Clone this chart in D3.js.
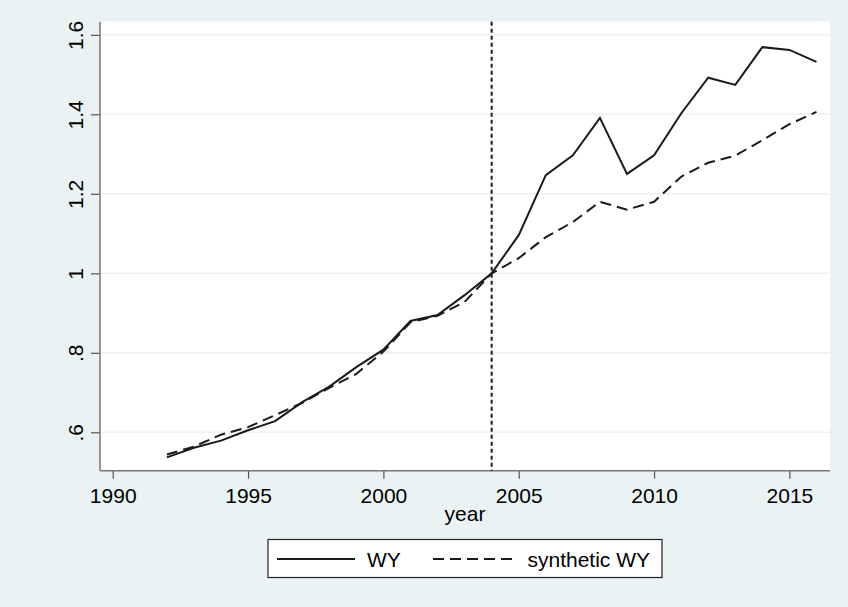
<!DOCTYPE html>
<html>
<head>
<meta charset="utf-8">
<script src="https://cdn.jsdelivr.net/npm/d3@7"></script>
<style>
  html, body { margin: 0; padding: 0; background: #eaf2f3; }
  svg { display: block; font-family: "Liberation Sans", Arial, sans-serif; }
</style>
</head>
<body>
<div id="chart"></div>
<script>
const years = d3.range(1992, 2017);
const wy = [0.537, 0.561, 0.579, 0.605, 0.628, 0.676, 0.715, 0.764, 0.808, 0.880, 0.895, 0.945,
  1.000, 1.096, 1.247, 1.297, 1.391, 1.250, 1.297, 1.402, 1.492, 1.474, 1.569, 1.562, 1.532];
const synthWy = [0.544, 0.564, 0.594, 0.613, 0.643, 0.674, 0.712, 0.747, 0.803, 0.877, 0.893, 0.928,
  1.000, 1.038, 1.091, 1.129, 1.180, 1.160, 1.180, 1.243, 1.278, 1.296, 1.335, 1.375, 1.406];
const xTicks = [1990, 1995, 2000, 2005, 2010, 2015];
const yTicks = [0.6, 0.8, 1.0, 1.2, 1.4, 1.6];
const yTickLabels = ['.6', '.8', '1', '1.2', '1.4', '1.6'];
const treatYear = 2004;
const legendLabels = ['WY', 'synthetic WY'];

const width = 848, height = 607;
const plot = { left: 100, right: 830, top: 21.7, bottom: 470.7 };

const svg = d3.select('#chart').append('svg')
  .attr('width', width)
  .attr('height', height);

svg.append('rect').attr('width', width).attr('height', height).attr('fill', '#eaf2f3');

const x = d3.scaleLinear().domain([1989.53, 2016.5]).range([plot.left, plot.right]);
const y = d3.scaleLinear().domain([0.5034, 1.633]).range([plot.bottom, plot.top]);

// plot region
svg.append('rect')
  .attr('x', plot.left).attr('y', plot.top)
  .attr('width', plot.right - plot.left).attr('height', plot.bottom - plot.top)
  .attr('fill', '#ffffff');

// gridlines
svg.append('g').selectAll('line').data(yTicks).enter().append('line')
  .attr('x1', plot.left).attr('x2', plot.right)
  .attr('y1', d => y(d)).attr('y2', d => y(d))
  .attr('stroke', '#eaf2f3').attr('stroke-width', 1.5);

// y axis
const yAxis = svg.append('g')
  .attr('transform', `translate(${plot.left},0)`)
  .call(d3.axisLeft(y).tickValues(yTicks).tickSize(9).tickFormat((d, i) => yTickLabels[i]));
yAxis.select('.domain').remove();
yAxis.selectAll('.tick line').attr('stroke', '#555').attr('stroke-width', 1.2);
yAxis.selectAll('.tick text')
  .attr('font-size', 21).attr('fill', '#000')
  .attr('text-anchor', 'middle')
  .attr('x', null).attr('dy', null)
  .attr('transform', 'translate(-17,0) rotate(-90)');

// x axis
const xAxis = svg.append('g')
  .attr('transform', `translate(0,${plot.bottom})`)
  .call(d3.axisBottom(x).tickValues(xTicks).tickSize(8).tickFormat(d3.format('d')));
xAxis.select('.domain').remove();
xAxis.selectAll('.tick line').attr('stroke', '#555').attr('stroke-width', 1.2);
xAxis.selectAll('.tick text')
  .attr('font-size', 21).attr('fill', '#000')
  .attr('y', 32).attr('dy', null);

// axis lines
svg.append('line')
  .attr('x1', plot.left).attr('x2', plot.left)
  .attr('y1', plot.top).attr('y2', plot.bottom)
  .attr('stroke', '#777').attr('stroke-width', 1.5);
svg.append('line')
  .attr('x1', plot.left).attr('x2', plot.right)
  .attr('y1', plot.bottom).attr('y2', plot.bottom)
  .attr('stroke', '#777').attr('stroke-width', 1.5);

svg.append('text')
  .attr('x', (plot.left + plot.right) / 2).attr('y', 521)
  .attr('text-anchor', 'middle').attr('font-size', 21)
  .text('year');

// treatment line
svg.append('line')
  .attr('x1', x(treatYear)).attr('x2', x(treatYear))
  .attr('y1', plot.top).attr('y2', plot.bottom)
  .attr('stroke', '#1a1a1a').attr('stroke-width', 2)
  .attr('stroke-dasharray', '4,3');

const line = d3.line()
  .x((d, i) => x(years[i]))
  .y(d => y(d));

svg.append('path').datum(wy)
  .attr('d', line).attr('fill', 'none')
  .attr('stroke', '#1a1a1a').attr('stroke-width', 2);

svg.append('path').datum(synthWy)
  .attr('d', line).attr('fill', 'none')
  .attr('stroke', '#1a1a1a').attr('stroke-width', 2)
  .attr('stroke-dasharray', '11,6');

// legend
const lg = svg.append('g');
lg.append('rect')
  .attr('x', 268).attr('y', 539.5)
  .attr('width', 394).attr('height', 38)
  .attr('fill', '#ffffff').attr('stroke', '#222').attr('stroke-width', 1.2);

const legendItems = [
  { x0: 277, x1: 355, tx: 367, dash: null },
  { x0: 433, x1: 516, tx: 527.5, dash: '11,6' }
];
legendItems.forEach((it, i) => {
  lg.append('line')
    .attr('x1', it.x0).attr('x2', it.x1)
    .attr('y1', 559).attr('y2', 559)
    .attr('stroke', '#1a1a1a').attr('stroke-width', 2)
    .attr('stroke-dasharray', it.dash);
  lg.append('text')
    .attr('x', it.tx).attr('y', 566.5)
    .attr('font-size', 21)
    .text(legendLabels[i]);
});
</script>
</body>
</html>
